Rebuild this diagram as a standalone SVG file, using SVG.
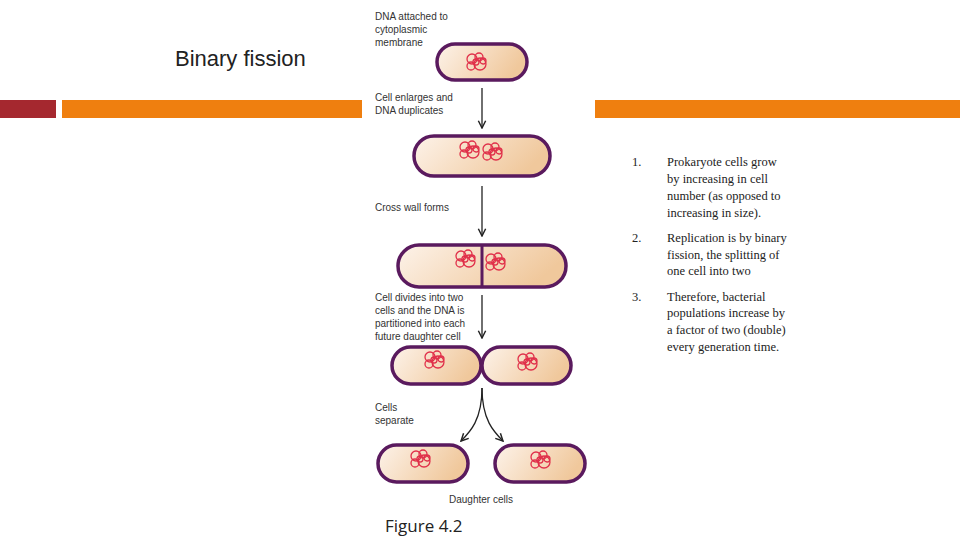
<svg xmlns="http://www.w3.org/2000/svg" width="960" height="540" viewBox="0 0 960 540">
<defs>
<linearGradient id="g" x1="0" x2="1" y1="0" y2="0.3"><stop offset="0" stop-color="#fdf3ea"/><stop offset="1" stop-color="#f0c89c"/></linearGradient>
<marker id="ah" viewBox="0 0 10 10" refX="9" refY="5" markerWidth="7" markerHeight="7" orient="auto"><path d="M1,1 L9,5 L1,9" fill="none" stroke="#222" stroke-width="1.6"/></marker>
<g id="dna" fill="none" stroke="#e0304a" stroke-width="1.3"><circle cx="-4" cy="-3" r="5"/><circle cx="3" cy="-5" r="4"/><circle cx="4" cy="2" r="6"/><circle cx="-5" cy="4" r="4"/><circle cx="0" cy="0" r="3"/><circle cx="7" cy="-1" r="3"/></g>
</defs>
<style>
.cell{fill:url(#g);stroke:#5a1a5e;stroke-width:3.5}
.lab{font-family:"Liberation Sans",Arial,sans-serif;font-size:10px;fill:#333}
.body{font-family:"Liberation Serif","Times New Roman",serif;font-size:12.5px;fill:#222}
.conn{stroke:#222;stroke-width:1.3;fill:none}
</style>
<rect width="960" height="540" fill="#fff"/>
<g id="bars"><rect x="0" y="100" width="56" height="18" fill="#a5282f"/><rect x="62" y="100" width="300" height="18" fill="#ef7f0f"/><rect x="595" y="100" width="365" height="18" fill="#ef7f0f"/></g>
<text x="175" y="66" font-family="Liberation Sans,Arial,sans-serif" font-size="22" fill="#222">Binary fission</text>
<g id="labels" class="lab">
<text x="375" y="20">DNA attached to</text><text x="375" y="33">cytoplasmic</text><text x="375" y="46">membrane</text>
<text x="375" y="101">Cell enlarges and</text><text x="375" y="114">DNA duplicates</text>
<text x="375" y="211">Cross wall forms</text>
<text x="375" y="301">Cell divides into two</text><text x="375" y="314">cells and the DNA is</text><text x="375" y="327">partitioned into each</text><text x="375" y="340">future daughter cell</text>
<text x="375" y="411">Cells</text><text x="375" y="424">separate</text>
<text x="449" y="503">Daughter cells</text>
</g>
<g id="cell1"><rect class="cell" x="437" y="44" width="90" height="36" rx="18"/><use href="#dna" x="476" y="62"/></g>
<g id="cell2"><rect class="cell" x="414" y="136" width="136" height="40" rx="20"/><use href="#dna" x="469" y="150"/><use href="#dna" x="492" y="152"/></g>
<g id="cell3"><rect class="cell" x="398" y="245" width="168" height="42" rx="21"/><line x1="482" y1="246" x2="482" y2="286" stroke="#5a1a5e" stroke-width="3"/><use href="#dna" x="465" y="259"/><use href="#dna" x="495" y="262"/></g>
<g id="cell4a"><rect class="cell" x="392" y="347" width="89" height="37" rx="18.5"/><use href="#dna" x="434" y="360"/></g>
<g id="cell4b"><rect class="cell" x="482" y="347" width="89" height="37" rx="18.5"/><use href="#dna" x="527" y="362"/></g>
<g id="cell5a"><rect class="cell" x="378" y="445" width="90" height="37" rx="18.5"/><use href="#dna" x="420" y="459"/></g>
<g id="cell5b"><rect class="cell" x="495" y="445" width="90" height="37" rx="18.5"/><use href="#dna" x="540" y="460"/></g>
<g id="connectors">
<line class="conn" x1="482" y1="88" x2="482" y2="128" marker-end="url(#ah)"/>
<line class="conn" x1="482" y1="186" x2="482" y2="236" marker-end="url(#ah)"/>
<line class="conn" x1="482" y1="295" x2="482" y2="338" marker-end="url(#ah)"/>
<path class="conn" d="M482,388 C482,420 470,432 461,441" marker-end="url(#ah)"/>
<path class="conn" d="M482,388 C482,420 494,432 503,441" marker-end="url(#ah)"/>
</g>
<text x="385" y="532" font-family="Open Sans,Liberation Sans,sans-serif" font-size="17" fill="#222">Figure 4.2</text>
<g id="list" class="body">
<text x="632" y="166">1.</text><text x="667" y="166">Prokaryote cells grow</text><text x="667" y="183">by increasing in cell</text><text x="667" y="200">number (as opposed to</text><text x="667" y="217">increasing in size).</text>
<text x="632" y="242">2.</text><text x="667" y="242">Replication is by binary</text><text x="667" y="259">fission, the splitting of</text><text x="667" y="275">one cell into two</text>
<text x="632" y="301">3.</text><text x="667" y="301">Therefore, bacterial</text><text x="667" y="317">populations increase by</text><text x="667" y="334">a factor of two (double)</text><text x="667" y="351">every generation time.</text>
</g>
</svg>
